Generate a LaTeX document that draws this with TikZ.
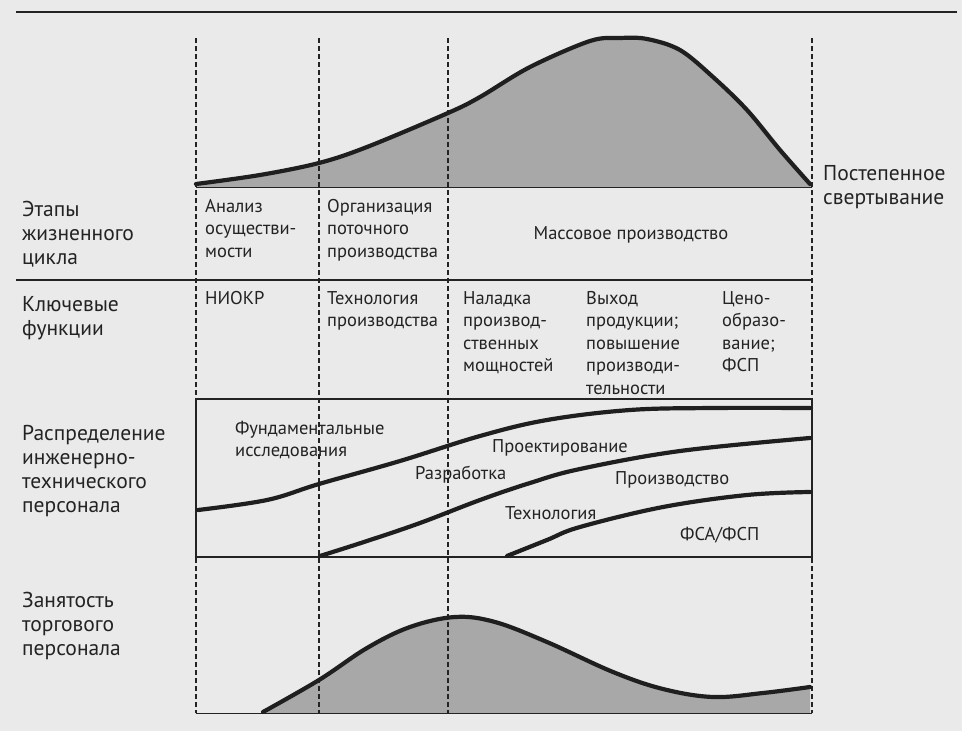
\documentclass[tikz,border=0pt]{standalone}
\usepackage{fontspec}
\setmainfont{PT Sans}
\definecolor{ink}{RGB}{35,35,35}
\definecolor{paper}{RGB}{234,234,234}
\definecolor{area}{RGB}{168,168,168}
\begin{document}
\begin{tikzpicture}[x=1pt,y=-1pt,
  rowlabel/.style={anchor=north west,inner sep=0pt,align=left,text=ink,
    font=\fontsize{21.5}{24}\selectfont,execute at begin node=\strut},
  cell/.style={anchor=north west,inner sep=0pt,align=left,text=ink,
    font=\fontsize{18.5}{22.5}\selectfont,execute at begin node=\strut},
  rule/.style={draw=ink,line width=1.6pt},
  thinrule/.style={draw=ink,line width=1pt},
  phase/.style={draw=ink,line width=1.1pt,dash pattern=on 5pt off 3pt},
  trend/.style={draw=black!88,line width=4.2pt,line cap=round},
  areafill/.style={fill=area}]
\useasboundingbox (0,0) rectangle (962,731);
\fill[paper] (0,0) rectangle (962,731);

% life-cycle sales curve
\fill[areafill] plot[smooth,tension=0.55] coordinates {
  (196,184) (260,175) (319,163) (367,147) (448,113) (480,97) (530,67)
  (590,41) (620,38) (647,39) (680,50) (713,77) (747,110) (780,150) (812,185)}
  -- (812,187) -- (196,187) -- cycle;
% sales staff curve
\fill[areafill] plot[smooth,tension=0.6] coordinates {
  (263,712) (319,680) (367,648) (410,627) (455,617) (495,622)
  (547,642) (613,672) (663,689) (713,697) (763,693) (810,687)}
  -- (810,713) -- (263,713) -- cycle;

% phase boundaries
\foreach \px/\nm in {196/a,319/b,448/c,812/d}{
  \coordinate (top-\nm) at (\px,38);
  \coordinate (bot-\nm) at (\px,713);
  \draw[phase] (top-\nm) -- (bot-\nm);
}

% rules
\draw[rule] (16,12) -- (957,12);
\draw[rule] (16,280) -- (812,280);
\draw[thinrule] (196,187) -- (812,187);
\draw[rule] (196,399) rectangle (812,557);
\draw[thinrule] (196,713) -- (812,713);

% trend lines
\draw[trend] plot[smooth,tension=0.55] coordinates {
  (196,184) (260,175) (319,163) (367,147) (448,113) (480,97) (530,67)
  (590,41) (620,38) (647,39) (680,50) (713,77) (747,110) (780,150) (810,184)};
\draw[trend] plot[smooth,tension=0.6] coordinates {
  (263,712) (319,680) (367,648) (410,627) (455,617) (495,622)
  (547,642) (613,672) (663,689) (713,697) (763,693) (810,687)};

% engineering staff split
\draw[trend] plot[smooth,tension=0.6] coordinates {
  (198,510) (267,500) (319,484) (400,461) (480,436) (547,420)
  (630,410) (713,408) (810,408)};
\draw[trend] plot[smooth,tension=0.6] coordinates {
  (320,556) (367,541) (420,523) (480,500) (530,483) (580,469) (680,451)
  (810,438)};
\draw[trend] plot[smooth,tension=0.6] coordinates {
  (507,556) (547,540) (580,527) (663,507) (747,495) (810,492)};

% row headings
\node[rowlabel] (stages) at (22,201) {Этапы\\жизненного\\цикла};
\node[rowlabel] (keyfn) at (22,296) {Ключевые\\функции};
\node[rowlabel] (eng) at (22,425) {Распределение\\инженерно-\\технического\\персонала};
\node[rowlabel] (sales) at (22,592) {Занятость\\торгового\\персонала};
\node[rowlabel] (decline) at (823,165) {Постепенное\\свертывание};

% stages
\node[cell] (feas) at (205,199) {Анализ\\осуществи-\\мости};
\node[cell] (flow) at (327,199) {Организация\\поточного\\производства};
\node[cell,anchor=north] (mass) at (631,224) {Массовое производство};

% key functions
\node[cell] (rnd) at (205,289) {НИОКР};
\node[cell] (tech) at (327,291) {Технология\\производства};
\node[cell] (setup) at (463,291) {Наладка\\производ-\\ственных\\мощностей};
\node[cell] (output) at (586,291) {Выход\\продукции;\\повышение\\производи-\\тельности};
\node[cell] (price) at (722,291) {Цено-\\образо-\\вание;\\ФСП};

% engineering staff areas
\node[cell,font=\fontsize{18.5}{22}\selectfont] (basic) at (235,421) {Фундаментальные\\исследования};
\node[cell] (dev) at (415,464) {Разработка};
\node[cell] (design) at (492,437) {Проектирование};
\node[cell] (prod) at (615,469) {Производство};
\node[cell] (techn) at (505,504) {Технология};
\node[cell] (fsa) at (680,525) {ФСА/ФСП};
\end{tikzpicture}
\end{document}
